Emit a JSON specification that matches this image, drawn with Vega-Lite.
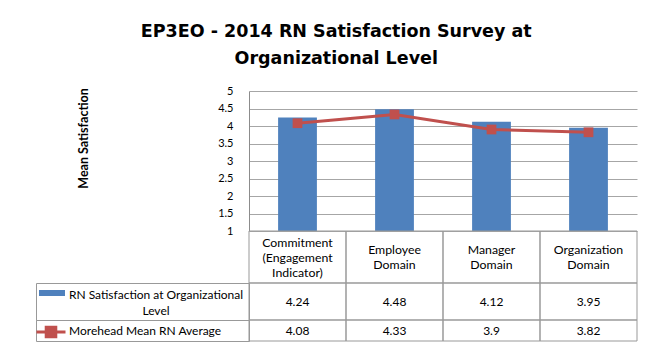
{
  "$schema": "https://vega.github.io/schema/vega-lite/v6.json",
  "background": "white",
  "autosize": {"type": "pad"},
  "padding": {"left": 35, "top": 22, "right": 10, "bottom": 5},
  "title": {
    "text": ["EP3EO - 2014 RN Satisfaction Survey at", "Organizational Level"],
    "font": "DejaVu Sans", "fontSize": 17.5, "fontWeight": "bold", "lineHeight": 27,
    "anchor": "middle", "color": "#000000", "offset": 18
  },
  "datasets": {
    "d": [
      {"cat": "Commitment (Engagement Indicator)", "series": "RN Satisfaction at Organizational Level", "value": 4.24},
      {"cat": "Employee Domain", "series": "RN Satisfaction at Organizational Level", "value": 4.48},
      {"cat": "Manager Domain", "series": "RN Satisfaction at Organizational Level", "value": 4.12},
      {"cat": "Organization Domain", "series": "RN Satisfaction at Organizational Level", "value": 3.95},
      {"cat": "Commitment (Engagement Indicator)", "series": "Morehead Mean RN Average", "value": 4.08},
      {"cat": "Employee Domain", "series": "Morehead Mean RN Average", "value": 4.33},
      {"cat": "Manager Domain", "series": "Morehead Mean RN Average", "value": 3.9},
      {"cat": "Organization Domain", "series": "Morehead Mean RN Average", "value": 3.82}
    ],
    "s": [
      {"series": "RN Satisfaction at Organizational Level", "label": "RN Satisfaction at Organizational\nLevel"},
      {"series": "Morehead Mean RN Average", "label": "Morehead Mean RN Average"}
    ]
  },
  "columns": 2,
  "spacing": 0,
  "bounds": "flush",
  "concat": [
    {
      "width": 213, "height": 140,
      "data": {"values": [{}]},
      "mark": {"type": "text", "text": ""}
    },
    {
      "width": 388, "height": 140,
      "data": {"name": "d"},
      "encoding": {
        "x": {"field": "cat", "type": "nominal", "sort": null, "axis": null,
              "scale": {"paddingInner": 0.6, "paddingOuter": 0.3}},
        "y": {"field": "value", "type": "quantitative",
              "scale": {"domain": [1, 5], "nice": false, "zero": false},
              "axis": {"values": [1, 1.5, 2, 2.5, 3, 3.5, 4, 4.5, 5], "format": "~g",
                       "title": "Mean Satisfaction", "titleFontSize": 12.5, "titleFontWeight": "bold",
                       "titleColor": "#000000", "titleX": -166, "titleY": 47, "titleAngle": 270,
                       "titleAlign": "center", "titleBaseline": "middle",
                       "grid": true, "gridColor": "#a6a6a6", "gridWidth": 1,
                       "domainColor": "#8c8c8c", "ticks": false, "labelPadding": 16,
                       "labelFontSize": 11, "labelColor": "#000000"}}
      },
      "layer": [
        {
          "transform": [{"filter": "datum.series === 'RN Satisfaction at Organizational Level'"}],
          "mark": {"type": "bar", "clip": true},
          "encoding": {
            "fill": {"field": "series", "type": "nominal",
                     "scale": {"range": ["#4F81BD"]},
                     "legend": {"orient": "none", "legendX": 3, "legendY": 189, "title": null,
                                "symbolType": "M-1,-0.23H1V0.23H-1Z", "symbolSize": 676,
                                "symbolStrokeWidth": 0, "labelExpr": "''", "padding": 0}}
          }
        },
        {
          "transform": [{"filter": "datum.series === 'Morehead Mean RN Average'"}],
          "mark": {"type": "line", "strokeWidth": 3},
          "encoding": {
            "stroke": {"field": "series", "type": "nominal",
                       "scale": {"range": ["#C0504D"]},
                       "legend": {"orient": "none", "legendX": -1, "legendY": 225, "title": null,
                                  "symbolType": "M-1,0H1M-0.33,-0.33H0.33V0.33H-0.33Z", "symbolSize": 841,
                                  "symbolStrokeWidth": 3, "labelExpr": "''", "padding": 0,
                                  "encode": {"symbols": {"update": {"fill": {"value": "#C0504D"}}}}}}
          }
        },
        {
          "transform": [{"filter": "datum.series === 'Morehead Mean RN Average'"}],
          "mark": {"type": "point", "shape": "square", "filled": true, "size": 95, "color": "#C0504D", "opacity": 1}
        }
      ]
    },
    {
      "width": 213, "height": 52,
      "data": {"values": [{}]},
      "mark": {"type": "text", "text": ""}
    },
    {
      "width": 388, "height": 52,
      "data": {"name": "d"},
      "transform": [{"filter": "datum.series === 'RN Satisfaction at Organizational Level'"}],
      "encoding": {
        "x": {"field": "cat", "type": "nominal", "sort": null, "axis": null,
              "scale": {"paddingInner": 0, "paddingOuter": 0}}
      },
      "layer": [
        {"mark": {"type": "rect", "filled": false, "color": "#999999", "strokeWidth": 1}},
        {"transform": [{"filter": "datum.cat === 'Commitment (Engagement Indicator)'"}],
         "mark": {"type": "text", "lineBreak": " ", "lineHeight": 15, "fontSize": 12.3, "dy": -14, "color": "#000000"},
         "encoding": {"text": {"field": "cat"}}},
        {"transform": [{"filter": "datum.cat !== 'Commitment (Engagement Indicator)'"}],
         "mark": {"type": "text", "lineBreak": " ", "lineHeight": 15, "fontSize": 12.3, "dy": -7, "color": "#000000"},
         "encoding": {"text": {"field": "cat"}}}
      ]
    },
    {
      "width": 213, "height": 37,
      "view": {"stroke": "#999999"},
      "data": {"name": "s"},
      "transform": [{"filter": "datum.series === 'RN Satisfaction at Organizational Level'"}],
      "mark": {"type": "text", "lineBreak": "\n", "lineHeight": 16, "fontSize": 12, "align": "center", "dx": 13.5, "dy": -7, "color": "#000000"},
      "encoding": {"text": {"field": "label"}}
    },
    {
      "width": 388, "height": 37,
      "data": {"name": "d"},
      "transform": [{"filter": "datum.series === 'RN Satisfaction at Organizational Level'"}],
      "encoding": {
        "x": {"field": "cat", "type": "nominal", "sort": null, "axis": null,
              "scale": {"paddingInner": 0, "paddingOuter": 0}}
      },
      "layer": [
        {"mark": {"type": "rect", "filled": false, "color": "#999999", "strokeWidth": 1}},
        {"mark": {"type": "text", "fontSize": 12, "color": "#000000"},
         "encoding": {"text": {"field": "value", "type": "nominal"}}}
      ]
    },
    {
      "width": 213, "height": 21,
      "view": {"stroke": "#999999"},
      "data": {"name": "s"},
      "transform": [{"filter": "datum.series === 'Morehead Mean RN Average'"}],
      "mark": {"type": "text", "fontSize": 12, "align": "left", "dx": -73.5, "color": "#000000"},
      "encoding": {"text": {"field": "label"}}
    },
    {
      "width": 388, "height": 21,
      "data": {"name": "d"},
      "transform": [{"filter": "datum.series === 'Morehead Mean RN Average'"}],
      "encoding": {
        "x": {"field": "cat", "type": "nominal", "sort": null, "axis": null,
              "scale": {"paddingInner": 0, "paddingOuter": 0}}
      },
      "layer": [
        {"mark": {"type": "rect", "filled": false, "color": "#999999", "strokeWidth": 1}},
        {"mark": {"type": "text", "fontSize": 12, "color": "#000000"},
         "encoding": {"text": {"field": "value", "type": "nominal"}}}
      ]
    }
  ],
  "config": {
    "font": "Lato",
    "view": {"stroke": null}
  }
}
